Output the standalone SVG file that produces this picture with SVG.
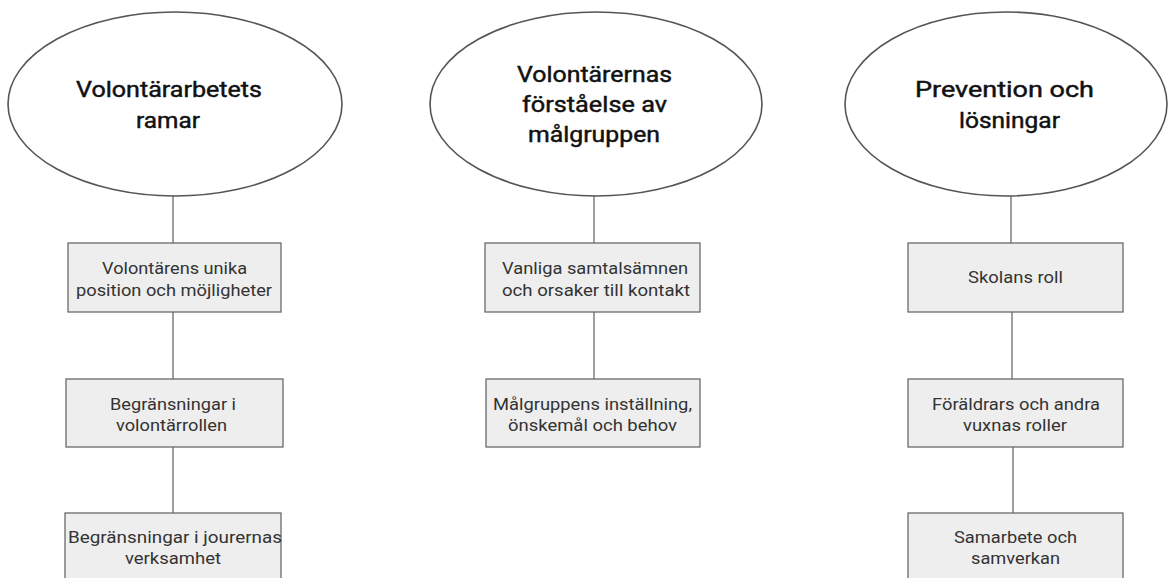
<svg xmlns="http://www.w3.org/2000/svg" width="1168" height="578" viewBox="0 0 1168 578">
<style>
.ell{fill:#ffffff;stroke:#555555;stroke-width:1.6}
.box{fill:#eeeeee;stroke:#6a6a6a;stroke-width:1.3}
.ttl{font-family:Roboto,"Liberation Sans",sans-serif;font-weight:400;font-size:22px;fill:#111111;stroke:#111111;stroke-width:0.45;text-anchor:middle}
.lbl{font-family:Roboto,"Liberation Sans",sans-serif;font-size:16.5px;fill:#333333;text-anchor:middle}
.con{stroke:#6a6a6a;stroke-width:1.3;fill:none}
</style>
<rect width="1168" height="578" fill="#ffffff"/>
<g id="connectors">
<line class="con" x1="173" y1="196" x2="173" y2="243"/>
<line class="con" x1="173" y1="312" x2="173" y2="379"/>
<line class="con" x1="173" y1="447" x2="173" y2="513"/>
<line class="con" x1="594" y1="196" x2="594" y2="243"/>
<line class="con" x1="594" y1="312" x2="594" y2="379"/>
<line class="con" x1="1011" y1="196" x2="1011" y2="243"/>
<line class="con" x1="1012" y1="312" x2="1012" y2="379"/>
<line class="con" x1="1013" y1="447" x2="1013" y2="513"/>
</g>
<g id="e1">
<ellipse class="ell" cx="175" cy="104" rx="167" ry="92"/>
<text class="ttl" x="169" y="97" textLength="186" lengthAdjust="spacingAndGlyphs">Volontärarbetets</text>
<text class="ttl" x="168" y="128" textLength="64" lengthAdjust="spacingAndGlyphs">ramar</text>
</g>
<g id="e2">
<ellipse class="ell" cx="596" cy="104" rx="166" ry="92"/>
<text class="ttl" x="594.5" y="82" textLength="155" lengthAdjust="spacingAndGlyphs">Volontärernas</text>
<text class="ttl" x="594.5" y="112" textLength="145" lengthAdjust="spacingAndGlyphs">förståelse av</text>
<text class="ttl" x="594" y="142" textLength="132" lengthAdjust="spacingAndGlyphs">målgruppen</text>
</g>
<g id="e3">
<ellipse class="ell" cx="1006" cy="104" rx="161" ry="92"/>
<text class="ttl" x="1004.5" y="97" textLength="179" lengthAdjust="spacingAndGlyphs">Prevention och</text>
<text class="ttl" x="1009.5" y="128" textLength="101" lengthAdjust="spacingAndGlyphs">lösningar</text>
</g>
<g id="b11">
<rect class="box" x="68" y="243" width="213" height="69"/>
<text class="lbl" x="174.5" y="274" textLength="145" lengthAdjust="spacingAndGlyphs">Volontärens unika</text>
<text class="lbl" x="174" y="296" textLength="196" lengthAdjust="spacingAndGlyphs">position och möjligheter</text>
</g>
<g id="b12">
<rect class="box" x="66" y="379" width="217" height="68"/>
<text class="lbl" x="173" y="410" textLength="126" lengthAdjust="spacingAndGlyphs">Begränsningar i</text>
<text class="lbl" x="171.5" y="431" textLength="111" lengthAdjust="spacingAndGlyphs">volontärrollen</text>
</g>
<g id="b13">
<rect class="box" x="65" y="513" width="216" height="75"/>
<text class="lbl" x="175" y="543" textLength="214" lengthAdjust="spacingAndGlyphs">Begränsningar i jourernas</text>
<text class="lbl" x="173" y="564" textLength="96" lengthAdjust="spacingAndGlyphs">verksamhet</text>
</g>
<g id="b21">
<rect class="box" x="485" y="243" width="215" height="69"/>
<text class="lbl" x="595" y="274" textLength="186" lengthAdjust="spacingAndGlyphs">Vanliga samtalsämnen</text>
<text class="lbl" x="596" y="296" textLength="188" lengthAdjust="spacingAndGlyphs">och orsaker till kontakt</text>
</g>
<g id="b22">
<rect class="box" x="486" y="379" width="214" height="68"/>
<text class="lbl" x="592.5" y="410" textLength="199" lengthAdjust="spacingAndGlyphs">Målgruppens inställning,</text>
<text class="lbl" x="592.5" y="431" textLength="169" lengthAdjust="spacingAndGlyphs">önskemål och behov</text>
</g>
<g id="b31">
<rect class="box" x="908" y="243" width="215" height="69"/>
<text class="lbl" x="1015.5" y="283" textLength="95" lengthAdjust="spacingAndGlyphs">Skolans roll</text>
</g>
<g id="b32">
<rect class="box" x="908" y="379" width="215" height="68"/>
<text class="lbl" x="1016" y="410" textLength="168" lengthAdjust="spacingAndGlyphs">Föräldrars och andra</text>
<text class="lbl" x="1015" y="431" textLength="104" lengthAdjust="spacingAndGlyphs">vuxnas roller</text>
</g>
<g id="b33">
<rect class="box" x="908" y="513" width="215" height="75"/>
<text class="lbl" x="1015.5" y="543" textLength="123" lengthAdjust="spacingAndGlyphs">Samarbete och</text>
<text class="lbl" x="1015.5" y="564" textLength="89" lengthAdjust="spacingAndGlyphs">samverkan</text>
</g>
</svg>
